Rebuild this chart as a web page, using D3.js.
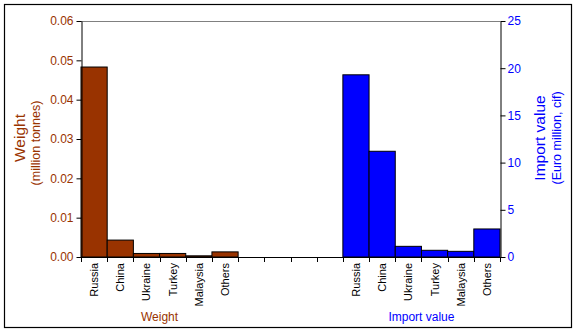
<!DOCTYPE html>
<html><head><meta charset="utf-8">
<script src="https://cdn.jsdelivr.net/npm/d3@7"></script>
<style>body{margin:0;background:#fff}svg{display:block;font-family:"Liberation Sans",Arial,sans-serif}</style>
</head><body><svg id="c" width="577" height="332"></svg>
<script>
const countries = ["Russia","China","Ukraine","Turkey","Malaysia","Others"];
const weight = [0.0483,0.0043,0.0009,0.0009,0.0003,0.0013];
const importValue = [19.3,11.2,1.13,0.71,0.6,2.97];
const weightTicks = [0,0.01,0.02,0.03,0.04,0.05,0.06];
const valueTicks = [0,5,10,15,20,25];
const gapCount = 4;

const svg = d3.select("#c");
const L=81,R=500,T=21,B=257;
const brown="#993300", blue="#0000FF";

svg.append("rect").attr("x",4.5).attr("y",4.5).attr("width",567).attr("height",323)
  .attr("fill","none").attr("stroke","#000").attr("stroke-width",1.2);

const keys = [...countries.map(c=>"w|"+c), ...d3.range(gapCount).map(i=>"g|"+i), ...countries.map(c=>"v|"+c)];
const x = d3.scaleBand().domain(keys).range([L,R]).padding(0);
const yW = d3.scaleLinear().domain([0,0.06]).range([B,T]);
const yV = d3.scaleLinear().domain([0,25]).range([B,T]);

// top gridline
svg.append("line").attr("x1",L).attr("x2",R).attr("y1",T+0.5).attr("y2",T+0.5).attr("stroke","#808080");

// bars
svg.selectAll(".bw").data(countries).join("rect")
  .attr("x",(c)=>x("w|"+c)).attr("width",x.bandwidth())
  .attr("y",(c,i)=>yW(weight[i])).attr("height",(c,i)=>B-yW(weight[i]))
  .attr("fill",brown).attr("stroke","#000").attr("stroke-width",1);
svg.selectAll(".bv").data(countries).join("rect")
  .attr("x",(c)=>x("v|"+c)).attr("width",x.bandwidth())
  .attr("y",(c,i)=>yV(importValue[i])).attr("height",(c,i)=>B-yV(importValue[i]))
  .attr("fill",blue).attr("stroke","#000").attr("stroke-width",1);

// left axis
const gl = svg.append("g").attr("transform",`translate(${L+0.5},0)`)
  .call(d3.axisLeft(yW).tickValues(weightTicks).tickFormat(d3.format(".2f")).tickSize(5).tickSizeOuter(0));
gl.select(".domain").attr("stroke","#000");
gl.selectAll(".tick line").attr("stroke","#000");
gl.selectAll("text").attr("fill",brown).attr("font-size",12).attr("font-family","Liberation Sans, Arial, sans-serif").attr("x",-8);

// right axis
const gr = svg.append("g").attr("transform",`translate(${R+0.5},0)`)
  .call(d3.axisRight(yV).tickValues(valueTicks).tickSize(5).tickSizeOuter(0));
gr.select(".domain").attr("stroke","#000");
gr.selectAll(".tick line").attr("stroke","#000");
gr.selectAll("text").attr("fill",blue).attr("font-size",12).attr("font-family","Liberation Sans, Arial, sans-serif").attr("x",7);

// bottom axis line and ticks at band boundaries
svg.append("line").attr("x1",L).attr("x2",R+1).attr("y1",B+0.5).attr("y2",B+0.5).attr("stroke","#000");
const bounds = keys.map(k=>x(k)).concat([R]);
svg.selectAll(".bt").data(bounds).join("line")
  .attr("x1",d=>Math.round(d)+0.5).attr("x2",d=>Math.round(d)+0.5)
  .attr("y1",B).attr("y2",B+5).attr("stroke","#000");

// category labels
const labs = keys.filter(k=>k[0]!=="g");
svg.selectAll(".cl").data(labs).join("text")
  .attr("transform",k=>`translate(${x(k)+x.bandwidth()/2+4},${B+6}) rotate(-90)`)
  .attr("text-anchor","end").attr("font-size",11).attr("fill","#000")
  .text(k=>k.split("|")[1]);

// group labels
svg.append("text").attr("x",(x("w|Russia")+x("w|Others")+x.bandwidth())/2).attr("y",321)
  .attr("text-anchor","middle").attr("font-size",12).attr("fill",brown).text("Weight");
svg.append("text").attr("x",(x("v|Russia")+x("v|Others")+x.bandwidth())/2).attr("y",321)
  .attr("text-anchor","middle").attr("font-size",12).attr("fill",blue).text("Import value");

// axis titles
svg.append("text").attr("transform",`translate(25,138) rotate(-90)`).attr("text-anchor","middle")
  .attr("font-size",15.5).attr("fill",brown).text("Weight");
svg.append("text").attr("transform",`translate(40,143) rotate(-90)`).attr("text-anchor","middle")
  .attr("font-size",12.5).attr("fill",brown).text("(million tonnes)");
svg.append("text").attr("transform",`translate(545,138) rotate(-90)`).attr("text-anchor","middle")
  .attr("font-size",15.5).attr("fill",blue).text("Import value");
svg.append("text").attr("transform",`translate(561,138) rotate(-90)`).attr("text-anchor","middle")
  .attr("font-size",12.5).attr("fill",blue).text("(Euro million, cif)");
</script></body></html>
